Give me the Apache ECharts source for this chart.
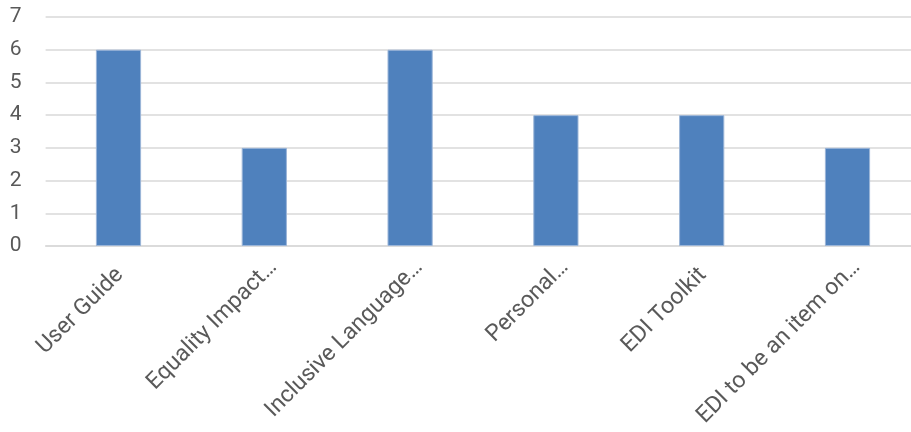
<!DOCTYPE html>
<html>
<head>
<meta charset="utf-8">
<script src="https://cdn.jsdelivr.net/npm/echarts@6/dist/echarts.min.js"></script>
<style>
  html, body { margin: 0; padding: 0; background: #fff; }
  #chart { width: 911px; height: 432px; }
</style>
</head>
<body>
<div id="chart"></div>
<script>
// Responses per suggested item
const categories = ['User Guide', 'Equality Impact…', 'Inclusive Language…', 'Personal…', 'EDI Toolkit', 'EDI to be an item on…'];
const counts = [6, 3, 6, 4, 4, 3];
const yTicks = [0, 1, 2, 3, 4, 5, 6, 7];

// Shortened names run a little further along their slant than full names
const xData = categories.map(name => ({
  value: name,
  textStyle: { padding: name.endsWith('…') ? [0, -13, 0, 0] : [0, -2, 0, 0] }
}));

const chart = echarts.init(document.getElementById('chart'));
chart.setOption({
  animation: false,
  grid: { left: 45.6, right: -9.4, top: 17, bottom: 186, outerBoundsMode: 'none', containLabel: false },
  xAxis: {
    type: 'category',
    data: xData,
    axisLine: { show: true, lineStyle: { color: '#d9d9d9', width: 1.5 } },
    axisTick: { show: false },
    axisLabel: {
      interval: 0,
      rotate: 45,
      margin: 27,
      color: '#595959',
      fontFamily: 'Roboto',
      fontSize: 23
    }
  },
  yAxis: {
    type: 'value',
    min: yTicks[0],
    max: yTicks[yTicks.length - 1],
    interval: 1,
    axisLine: { show: false },
    axisTick: { show: false },
    splitLine: { lineStyle: { color: '#d9d9d9', width: 1.5 } },
    axisLabel: {
      margin: 24,
      color: '#595959',
      fontFamily: 'Roboto',
      fontSize: 21
    }
  },
  series: [{
    type: 'bar',
    data: counts,
    barWidth: '31%',
    itemStyle: { color: '#4f81bd', borderColor: '#9bb5d8', borderWidth: 1 }
  }]
});
</script>
</body>
</html>
